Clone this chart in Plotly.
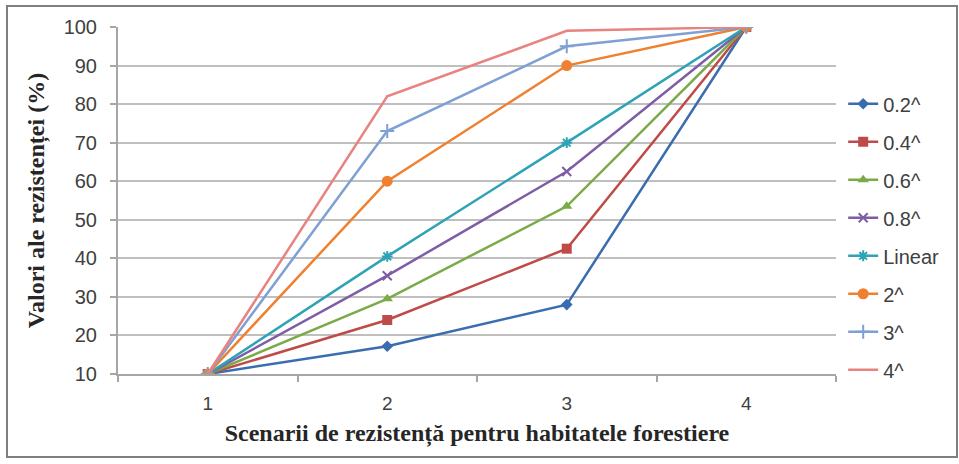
import plotly.graph_objects as go

scenarios = ["1", "2", "3", "4"]
series_names = ["0.2^", "0.4^", "0.6^", "0.8^", "Linear", "2^", "3^", "4^"]
v_02 = [10, 17.2, 28, 100]
v_04 = [10, 24, 42.5, 100]
v_06 = [10, 29.5, 53.5, 100]
v_08 = [10, 35.5, 62.5, 100]
v_lin = [10, 40.5, 70, 100]
v_2 = [10, 60, 90, 100]
v_3 = [10, 73, 95, 100]
v_4 = [10, 82, 99, 100]
y_ticks = [10, 20, 30, 40, 50, 60, 70, 80, 90, 100]

values = [v_02, v_04, v_06, v_08, v_lin, v_2, v_3, v_4]
colors = ["#3A6DAF", "#BF4B48", "#7AAB48", "#7E5DA6", "#2FA3B6", "#F0802F", "#7FA0D4", "#E8837F"]
symbols = ["diamond", "square", "triangle-up", "x-thin", "asterisk", "circle", "cross-thin", None]
sizes = [9, 10, 10, 9, 9, 11, 10, 0]

fig = go.Figure()
for i, (name, vals) in enumerate(zip(series_names, values)):
    sym = symbols[i]
    marker = dict(color=colors[i], size=sizes[i])
    if sym is None:
        mode = "lines"
    else:
        mode = "lines+markers"
        marker["symbol"] = sym
        if sym.endswith("-thin") or sym == "asterisk":
            marker["line"] = dict(color=colors[i], width=2)
    fig.add_trace(go.Scatter(
        x=scenarios, y=vals, name=name, mode=mode,
        line=dict(color=colors[i], width=2.5),
        marker=marker, legendgroup=name,
    ))

fig.update_layout(
    width=959, height=464,
    margin=dict(l=118, r=123, t=27, b=90),
    paper_bgcolor="white", plot_bgcolor="white",
    font=dict(family="Liberation Sans, Arial, sans-serif", size=17, color="#404040"),
    showlegend=True,
    legend=dict(
        x=1.01, xanchor="left", y=0.835, yanchor="top",
        tracegroupgap=9, itemwidth=30,
        font=dict(size=20, color="#404040"),
        bgcolor="rgba(0,0,0,0)",
    ),
    shapes=[dict(
        type="rect", xref="paper", yref="paper",
        x0=-111/718, x1=(957-118)/718, y0=-(457-374)/347, y1=1 + 21/347,
        line=dict(color="#7F7F7F", width=2), fillcolor="rgba(0,0,0,0)", layer="below",
    )],
)

fig.update_xaxes(
    type="category", tickson="boundaries",
    showline=True, linecolor="#A6A6A6", linewidth=2,
    ticks="outside", ticklen=6, tickcolor="#A6A6A6", tickwidth=1.5,
    showgrid=False,
    tickfont=dict(size=19, color="#404040"),
    ticklabelstandoff=11,
    title=dict(text="Scenarii de rezistență pentru habitatele forestiere",
               font=dict(family="Liberation Serif, Times New Roman, serif", size=24, color="#262626", weight="bold"),
               standoff=11),
    range=[-0.5, 3.5],
)
fig.update_yaxes(
    range=[10, 100], tickvals=y_ticks,
    showline=True, linecolor="#A6A6A6", linewidth=2,
    ticks="outside", ticklen=6, tickcolor="#A6A6A6", tickwidth=1.5,
    showgrid=True, gridcolor="#BFBFBF", gridwidth=2,
    zeroline=False,
    tickfont=dict(size=20, color="#404040"),
    ticklabelstandoff=9,
    title=dict(text="Valori ale rezistenței (%)",
               font=dict(family="Liberation Serif, Times New Roman, serif", size=24, color="#262626", weight="bold"),
               standoff=12),
)

fig.write_html("out.html")
